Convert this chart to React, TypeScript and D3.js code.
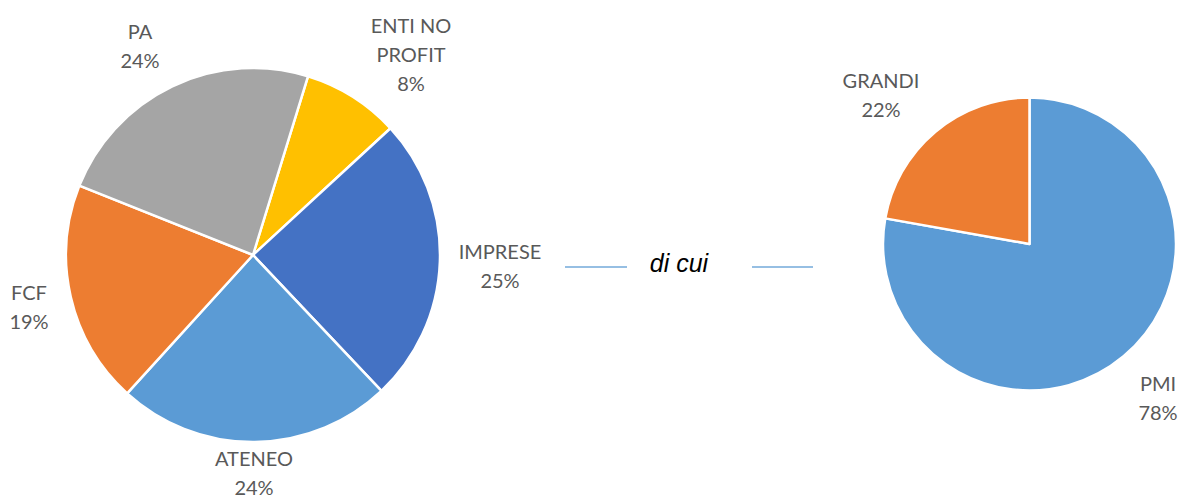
import React from "react";
import * as d3 from "d3";

const mainCategories = ["ENTI NO PROFIT", "IMPRESE", "ATENEO", "FCF", "PA"];
const mainValues = [8.4, 24.8, 23.8, 19.3, 23.7];
const mainLabelLines = [["ENTI NO", "PROFIT"], ["IMPRESE"], ["ATENEO"], ["FCF"], ["PA"]];
const mainColors = ["#FFC000", "#4472C4", "#5B9BD5", "#ED7D31", "#A5A5A5"];

const subCategories = ["PMI", "GRANDI"];
const subValues = [77.8, 22.2];
const subLabelLines = [["PMI"], ["GRANDI"]];
const subColors = ["#5B9BD5", "#ED7D31"];

const connectorText = "di cui";

const W = 1182;
const H = 496;

type LabelPos = { x: number; y: number };

const mainLabelPos: LabelPos[] = [
  { x: 411, y: 25 },
  { x: 500, y: 251 },
  { x: 254, y: 458 },
  { x: 29, y: 292 },
  { x: 140, y: 31 },
];
const subLabelPos: LabelPos[] = [
  { x: 1158, y: 383 },
  { x: 881, y: 80 },
];

function Pie({
  cx, cy, r, values, colors, startDeg, labels, lines, pos,
}: {
  cx: number; cy: number; r: number; values: number[]; colors: string[]; startDeg: number;
  labels: string[]; lines: string[][]; pos: LabelPos[];
}) {
  const start = (startDeg * Math.PI) / 180;
  const pieGen = d3.pie<number>().sort(null).value((d) => d).startAngle(start).endAngle(start + 2 * Math.PI);
  const arcs = pieGen(values);
  const arcGen = d3.arc<d3.PieArcDatum<number>>().innerRadius(0).outerRadius(r);
  const total = d3.sum(values);
  const lh = 29;
  return (
    <g>
      <g transform={`translate(${cx},${cy})`}>
        {arcs.map((a, i) => (
          <path key={labels[i]} d={arcGen(a) || ""} fill={colors[i]} stroke="#FFFFFF" strokeWidth={2.5} strokeLinejoin="round" />
        ))}
      </g>
      {arcs.map((a, i) => {
        const ls = [...lines[i], `${Math.round((values[i] / total) * 100)}%`];
        return (
          <text key={"t" + labels[i]} x={pos[i].x} y={pos[i].y} textAnchor="middle" fill="#595959"
            style={{ fontFamily: "Lato, 'Open Sans', sans-serif", fontSize: 20 }}>
            {ls.map((l, j) => (
              <tspan key={j} x={pos[i].x} y={pos[i].y + j * lh} dominantBaseline="central">{l}</tspan>
            ))}
          </text>
        );
      })}
    </g>
  );
}

export default function App() {
  return (
    <svg width={W} height={H} viewBox={`0 0 ${W} ${H}`} style={{ position: "absolute", left: 0, top: 0, background: "#FFFFFF" }}>
      <rect width={W} height={H} fill="#FFFFFF" />
      <Pie cx={253} cy={255} r={187} values={mainValues} colors={mainColors} startDeg={17.1}
        labels={mainCategories} lines={mainLabelLines} pos={mainLabelPos} />
      <Pie cx={1029.5} cy={244} r={146.5} values={subValues} colors={subColors} startDeg={0}
        labels={subCategories} lines={subLabelLines} pos={subLabelPos} />
      <line x1={565} x2={627} y1={267} y2={267} stroke="#5B9BD5" strokeWidth={1.5} opacity={0.85} />
      <line x1={752} x2={813} y1={267} y2={267} stroke="#5B9BD5" strokeWidth={1.5} opacity={0.85} />
      <text x={679} y={271.5} textAnchor="middle" fill="#000000"
        style={{ fontFamily: "'Liberation Sans', Arial, sans-serif", fontSize: 25, fontStyle: "italic" }}>
        {connectorText}
      </text>
    </svg>
  );
}
